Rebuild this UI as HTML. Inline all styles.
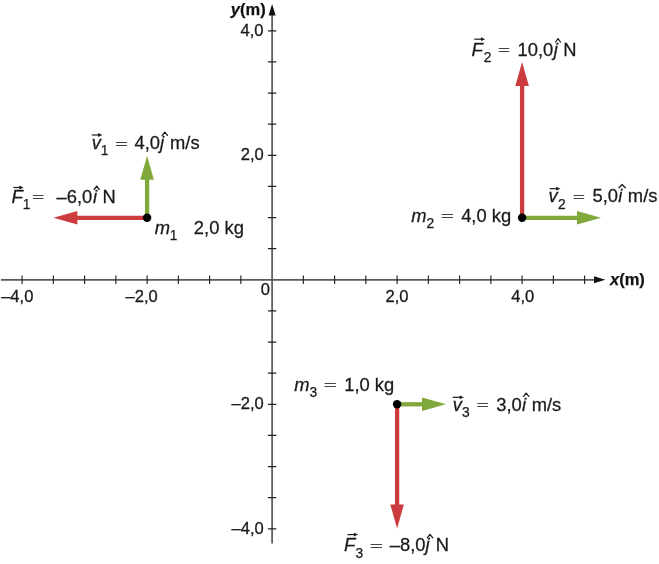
<!DOCTYPE html>
<html><head><meta charset="utf-8"><title>Figure</title>
<style>html,body{margin:0;padding:0;background:#fff}svg{display:block}</style></head>
<body>
<svg width="659" height="564" viewBox="0 0 659 564" font-family="Liberation Sans, Arial, Helvetica, sans-serif">
<style>text{stroke:#1a1a1a;stroke-width:0.25px}text.tk{stroke-width:0.3px}text.eq{stroke:none;fill:#444}</style>
<rect width="659" height="564" fill="#fff"/>
<path d="M1,279.8 H596" stroke="#595959" stroke-width="1.7" fill="none"/>
<path d="M272.1,543.4 V14" stroke="#595959" stroke-width="1.7" fill="none"/>
<path d="M22.10,275.5 v8.6 M53.35,275.5 v8.6 M84.60,275.5 v8.6 M115.85,275.5 v8.6 M147.10,275.5 v8.6 M178.35,275.5 v8.6 M209.60,275.5 v8.6 M240.85,275.5 v8.6 M303.35,275.5 v8.6 M334.60,275.5 v8.6 M365.85,275.5 v8.6 M397.10,275.5 v8.6 M428.35,275.5 v8.6 M459.60,275.5 v8.6 M490.85,275.5 v8.6 M522.10,275.5 v8.6 M553.35,275.5 v8.6 M584.60,275.5 v8.6 M267.90,528.80 h8.4 M267.90,497.68 h8.4 M267.90,466.55 h8.4 M267.90,435.43 h8.4 M267.90,404.30 h8.4 M267.90,373.18 h8.4 M267.90,342.05 h8.4 M267.90,310.93 h8.4 M267.90,248.68 h8.4 M267.90,217.55 h8.4 M267.90,186.43 h8.4 M267.90,155.30 h8.4 M267.90,124.18 h8.4 M267.90,93.05 h8.4 M267.90,61.93 h8.4 M267.90,30.80 h8.4 " stroke="#222" stroke-width="1.15" fill="none"/>
<path d="M605.3,279.8 L594,276.3 L594,283.3 Z" fill="#111"/>
<path d="M272.1,4 L268.6,15.5 L275.6,15.5 Z" fill="#111"/>
<text x="610" y="284.8" font-size="16.5" font-weight="bold" fill="#111"><tspan font-style="italic">x</tspan>(m)</text>
<text x="230.8" y="15.2" font-size="16.5" font-weight="bold" fill="#111"><tspan font-style="italic">y</tspan>(m)</text>
<text transform="translate(1.13,302.30) scale(1.035,1)" font-size="16.0" class="tk" fill="#1a1a1a">–4,0</text>
<text transform="translate(125.58,302.30) scale(1.035,1)" font-size="16.0" class="tk" fill="#1a1a1a">–2,0</text>
<text transform="translate(385.46,302.30) scale(1.035,1)" font-size="16.0" class="tk" fill="#1a1a1a">2,0</text>
<text transform="translate(511.22,302.30) scale(1.035,1)" font-size="16.0" class="tk" fill="#1a1a1a">4,0</text>
<text transform="translate(260.75,294.70) scale(1.035,1)" font-size="16.0" class="tk" fill="#1a1a1a">0</text>
<text transform="translate(240.52,35.90) scale(1.035,1)" font-size="16.0" class="tk" fill="#1a1a1a">4,0</text>
<text transform="translate(240.76,159.90) scale(1.035,1)" font-size="16.0" class="tk" fill="#1a1a1a">2,0</text>
<text transform="translate(231.53,408.60) scale(1.035,1)" font-size="16.0" class="tk" fill="#1a1a1a">–2,0</text>
<text transform="translate(231.53,533.60) scale(1.035,1)" font-size="16.0" class="tk" fill="#1a1a1a">–4,0</text>
<path d="M147.10,217.80 L76.40,217.80" stroke="#cc3b3e" stroke-width="4.3" fill="none"/>
<path d="M53.40,217.80 L77.40,211.00 L77.40,224.60 Z" fill="#cc3b3e"/>
<path d="M147.10,217.80 L147.10,178.70" stroke="#80a83a" stroke-width="4.3" fill="none"/>
<path d="M147.10,155.70 L153.90,179.70 L140.30,179.70 Z" fill="#80a83a"/>
<path d="M522.10,217.80 L522.10,85.10" stroke="#cc3b3e" stroke-width="4.3" fill="none"/>
<path d="M522.10,62.10 L528.90,86.10 L515.30,86.10 Z" fill="#cc3b3e"/>
<path d="M522.10,217.80 L578.00,217.80" stroke="#80a83a" stroke-width="4.3" fill="none"/>
<path d="M601.00,217.80 L577.00,224.60 L577.00,211.00 Z" fill="#80a83a"/>
<path d="M397.10,404.30 L397.10,505.50" stroke="#cc3b3e" stroke-width="4.3" fill="none"/>
<path d="M397.10,528.50 L390.30,504.50 L403.90,504.50 Z" fill="#cc3b3e"/>
<path d="M397.10,404.30 L423.00,404.30" stroke="#80a83a" stroke-width="4.3" fill="none"/>
<path d="M446.00,404.30 L422.00,411.10 L422.00,397.50 Z" fill="#80a83a"/>
<circle cx="147.10" cy="217.80" r="4.2" fill="#000"/>
<circle cx="522.10" cy="217.80" r="4.2" fill="#000"/>
<circle cx="397.10" cy="404.30" r="4.2" fill="#000"/>
<text transform="translate(11.45,203.00) scale(1.030,1)" font-size="18.0" font-style="italic" fill="#1a1a1a">F</text>
<path d="M13.40,187.50 H21.30" stroke="#1a1a1a" stroke-width="1.2" fill="none"/>
<path d="M23.50,187.50 l-4.2,-1.9 v3.8 z" fill="#1a1a1a"/>
<text transform="translate(22.80,209.40) scale(1.000,1)" font-size="13.8"  fill="#1a1a1a">1</text>
<text transform="translate(31.70,201.36) scale(1.634,1)" font-size="13.5" class="eq" fill="#1a1a1a">=</text>
<text transform="translate(56.56,203.00) scale(1.020,1)" font-size="18.0" fill="#1a1a1a">–6,0<tspan font-style="italic" dx="0.8">i</tspan></text>
<path d="M94.20,189.50 L96.70,186.20 L99.20,189.50" stroke="#1a1a1a" stroke-width="1.25" fill="none" stroke-linejoin="round" stroke-linecap="round"/>
<text transform="translate(102.59,203.00) scale(1.020,1)" font-size="18.0"  fill="#1a1a1a">N</text>
<text transform="translate(91.64,148.90) scale(1.020,1)" font-size="18.0" font-style="italic" fill="#1a1a1a">v</text>
<path d="M91.80,135.00 H100.10" stroke="#1a1a1a" stroke-width="1.2" fill="none"/>
<path d="M102.30,135.00 l-4.2,-1.9 v3.8 z" fill="#1a1a1a"/>
<text transform="translate(100.85,155.30) scale(1.000,1)" font-size="13.8"  fill="#1a1a1a">1</text>
<text transform="translate(114.65,147.91) scale(1.711,1)" font-size="13.5" class="eq" fill="#1a1a1a">=</text>
<text transform="translate(134.43,148.90) scale(1.020,1)" font-size="18.0" fill="#1a1a1a">4,0<tspan font-style="italic" dx="0">j</tspan></text>
<path d="M162.20,135.40 L164.85,132.10 L167.50,135.40" stroke="#1a1a1a" stroke-width="1.25" fill="none" stroke-linejoin="round" stroke-linecap="round"/>
<text transform="translate(170.04,148.90) scale(1.020,1)" font-size="18.0"  fill="#1a1a1a">m/s</text>
<text transform="translate(154.71,234.00) scale(1.020,1)" font-size="18.0" font-style="italic" fill="#1a1a1a">m</text>
<text transform="translate(169.85,240.40) scale(1.000,1)" font-size="13.8"  fill="#1a1a1a">1</text>
<text transform="translate(193.87,234.00) scale(1.020,1)" font-size="18.0"  fill="#1a1a1a">2,0 kg</text>
<text transform="translate(471.60,55.50) scale(1.030,1)" font-size="18.0" font-style="italic" fill="#1a1a1a">F</text>
<path d="M474.30,39.20 H483.00" stroke="#1a1a1a" stroke-width="1.2" fill="none"/>
<path d="M485.20,39.20 l-4.2,-1.9 v3.8 z" fill="#1a1a1a"/>
<text transform="translate(483.67,61.90) scale(1.000,1)" font-size="13.8"  fill="#1a1a1a">2</text>
<text transform="translate(497.73,53.85) scale(1.588,1)" font-size="13.5" class="eq" fill="#1a1a1a">=</text>
<text transform="translate(517.52,55.50) scale(1.020,1)" font-size="18.0" fill="#1a1a1a">10,0<tspan font-style="italic" dx="0.6">j</tspan></text>
<path d="M555.60,42.00 L558.05,38.70 L560.50,42.00" stroke="#1a1a1a" stroke-width="1.25" fill="none" stroke-linejoin="round" stroke-linecap="round"/>
<text transform="translate(563.19,55.50) scale(1.020,1)" font-size="18.0"  fill="#1a1a1a">N</text>
<text transform="translate(411.36,221.70) scale(1.020,1)" font-size="18.0" font-style="italic" fill="#1a1a1a">m</text>
<text transform="translate(426.42,228.10) scale(1.000,1)" font-size="13.8"  fill="#1a1a1a">2</text>
<text transform="translate(440.54,220.06) scale(1.726,1)" font-size="13.5" class="eq" fill="#1a1a1a">=</text>
<text transform="translate(461.15,221.70) scale(1.020,1)" font-size="18.0"  fill="#1a1a1a">4,0 kg</text>
<text transform="translate(548.54,202.30) scale(1.020,1)" font-size="18.0" font-style="italic" fill="#1a1a1a">v</text>
<path d="M549.70,188.70 H558.20" stroke="#1a1a1a" stroke-width="1.2" fill="none"/>
<path d="M560.40,188.70 l-4.2,-1.9 v3.8 z" fill="#1a1a1a"/>
<text transform="translate(558.02,208.70) scale(1.000,1)" font-size="13.8"  fill="#1a1a1a">2</text>
<text transform="translate(572.61,200.66) scale(1.619,1)" font-size="13.5" class="eq" fill="#1a1a1a">=</text>
<text transform="translate(592.49,202.30) scale(1.020,1)" font-size="18.0" fill="#1a1a1a">5,0<tspan font-style="italic" dx="0.3">i</tspan></text>
<path d="M619.00,187.80 L622.15,184.50 L625.30,187.80" stroke="#1a1a1a" stroke-width="1.25" fill="none" stroke-linejoin="round" stroke-linecap="round"/>
<text transform="translate(627.84,202.30) scale(1.020,1)" font-size="18.0"  fill="#1a1a1a">m/s</text>
<text transform="translate(294.36,390.60) scale(1.020,1)" font-size="18.0" font-style="italic" fill="#1a1a1a">m</text>
<text transform="translate(309.56,397.00) scale(1.000,1)" font-size="13.8"  fill="#1a1a1a">3</text>
<text transform="translate(323.55,388.95) scale(1.711,1)" font-size="13.5" class="eq" fill="#1a1a1a">=</text>
<text transform="translate(344.24,390.60) scale(1.020,1)" font-size="18.0"  fill="#1a1a1a">1,0 kg</text>
<text transform="translate(452.84,410.80) scale(1.020,1)" font-size="18.0" font-style="italic" fill="#1a1a1a">v</text>
<path d="M452.80,397.30 H461.70" stroke="#1a1a1a" stroke-width="1.2" fill="none"/>
<path d="M463.90,397.30 l-4.2,-1.9 v3.8 z" fill="#1a1a1a"/>
<text transform="translate(462.06,417.20) scale(1.000,1)" font-size="13.8"  fill="#1a1a1a">3</text>
<text transform="translate(476.31,409.15) scale(1.619,1)" font-size="13.5" class="eq" fill="#1a1a1a">=</text>
<text transform="translate(496.19,410.80) scale(1.020,1)" font-size="18.0" fill="#1a1a1a">3,0<tspan font-style="italic" dx="0.2">i</tspan></text>
<path d="M523.50,396.40 L526.20,393.10 L528.90,396.40" stroke="#1a1a1a" stroke-width="1.25" fill="none" stroke-linejoin="round" stroke-linecap="round"/>
<text transform="translate(531.64,410.80) scale(1.020,1)" font-size="18.0"  fill="#1a1a1a">m/s</text>
<text transform="translate(344.05,551.30) scale(1.030,1)" font-size="18.0" font-style="italic" fill="#1a1a1a">F</text>
<path d="M347.40,534.60 H355.90" stroke="#1a1a1a" stroke-width="1.2" fill="none"/>
<path d="M358.10,534.60 l-4.2,-1.9 v3.8 z" fill="#1a1a1a"/>
<text transform="translate(355.56,557.70) scale(1.000,1)" font-size="13.8"  fill="#1a1a1a">3</text>
<text transform="translate(369.54,549.65) scale(1.726,1)" font-size="13.5" class="eq" fill="#1a1a1a">=</text>
<text transform="translate(389.76,551.30) scale(1.020,1)" font-size="18.0" fill="#1a1a1a">–8,0<tspan font-style="italic" dx="0">j</tspan></text>
<path d="M427.30,537.80 L430.00,534.50 L432.70,537.80" stroke="#1a1a1a" stroke-width="1.25" fill="none" stroke-linejoin="round" stroke-linecap="round"/>
<text transform="translate(435.64,551.30) scale(1.020,1)" font-size="18.0"  fill="#1a1a1a">N</text>
</svg>
</body></html>
